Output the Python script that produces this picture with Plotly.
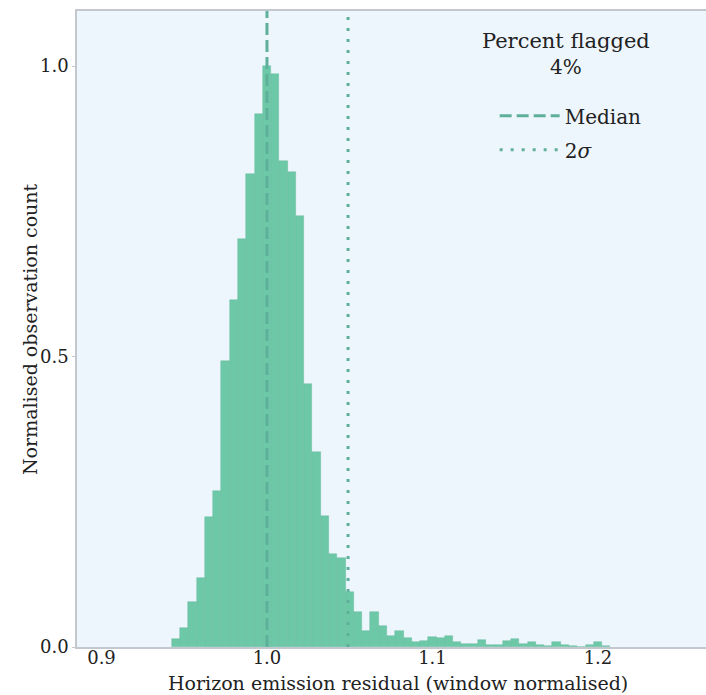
import plotly.graph_objects as go

# Histogram of the window-normalised horizon emission residual (bin width 0.005)
bin_centers = [
    0.945, 0.950, 0.955, 0.960, 0.965, 0.970, 0.975, 0.980, 0.985, 0.990,
    0.995, 1.000, 1.005, 1.010, 1.015, 1.020, 1.025, 1.030, 1.035, 1.040,
    1.045, 1.050, 1.055, 1.060, 1.065, 1.070, 1.075, 1.080, 1.085, 1.090,
    1.095, 1.100, 1.105, 1.110, 1.115, 1.120, 1.125, 1.130, 1.135, 1.140,
    1.145, 1.150, 1.155, 1.160, 1.165, 1.170, 1.175, 1.180, 1.185, 1.190,
    1.195, 1.200, 1.205,
]
normalised_counts = [
    0.014, 0.033, 0.077, 0.118, 0.223, 0.268, 0.493, 0.598, 0.703, 0.814,
    0.918, 1.000, 0.986, 0.837, 0.818, 0.742, 0.453, 0.335, 0.226, 0.160,
    0.153, 0.095, 0.060, 0.028, 0.060, 0.036, 0.019, 0.027, 0.016, 0.008,
    0.010, 0.018, 0.015, 0.019, 0.008, 0.006, 0.006, 0.012, 0.004, 0.003,
    0.010, 0.013, 0.005, 0.009, 0.003, 0.002, 0.008, 0.003, 0.002, 0.000,
    0.003, 0.008, 0.002,
]
bin_width = 0.005

median_value = 1.0
two_sigma_value = 1.049
percent_flagged = "4%"

x_ticks = [0.9, 1.0, 1.1, 1.2]
y_ticks = [0.0, 0.5, 1.0]

FONT = "'DejaVu Serif', 'Liberation Serif', serif"
TEXT_COLOR = "#222222"
BAR_COLOR = "#6cc8a6"
LINE_COLOR = "#5fb09b"
AXIS_COLOR = "#c3c8ce"

fig = go.Figure()

fig.add_trace(go.Bar(
    x=bin_centers,
    y=normalised_counts,
    width=bin_width,
    marker=dict(color=BAR_COLOR, line=dict(color="rgba(95,180,150,0.6)", width=0.6)),
    showlegend=False,
    hoverinfo="x+y",
))

y_top = 1.0947

fig.add_trace(go.Scatter(
    x=[median_value, median_value],
    y=[0, y_top],
    mode="lines",
    line=dict(color=LINE_COLOR, width=3, dash="12px,5px"),
    name="Median",
    legendgroup="median",
))
fig.add_trace(go.Scatter(
    x=[two_sigma_value, two_sigma_value],
    y=[0, y_top],
    mode="lines",
    line=dict(color=LINE_COLOR, width=3, dash="3px,8px"),
    name="2<i>σ</i>",
    legendgroup="sigma",
))

annotations = [
    # legend heading, two centred lines
    dict(text="Percent flagged", x=0.777, y=1, xref="paper", yref="paper",
         xanchor="center", yanchor="middle", yshift=-30, showarrow=False,
         font=dict(family=FONT, size=21, color=TEXT_COLOR)),
    dict(text=percent_flagged, x=0.777, y=1, xref="paper", yref="paper",
         xanchor="center", yanchor="middle", yshift=-56, showarrow=False,
         font=dict(family=FONT, size=20, color=TEXT_COLOR)),
    # axis titles
    dict(text="Horizon emission residual (window normalised)", x=0.5, y=0,
         xref="paper", yref="paper", xanchor="center", yanchor="middle",
         yshift=-36, xshift=6, showarrow=False,
         font=dict(family=FONT, size=19, color=TEXT_COLOR)),
    dict(text="Normalised observation count", x=0, y=0.5,
         xref="paper", yref="paper", xanchor="center", yanchor="middle",
         xshift=-47, textangle=-90, showarrow=False,
         font=dict(family=FONT, size=19, color=TEXT_COLOR)),
]

fig.update_layout(
    width=706,
    height=695,
    margin=dict(l=77, r=0, t=11, b=48),
    paper_bgcolor="white",
    plot_bgcolor="#eef6fd",
    font=dict(family=FONT, size=19, color=TEXT_COLOR),
    bargap=0,
    annotations=annotations,
    legend=dict(
        x=0.664,
        xanchor="left",
        y=0.866,
        yanchor="top",
        bgcolor="rgba(0,0,0,0)",
        font=dict(family=FONT, size=20, color=TEXT_COLOR),
        itemwidth=60,
        tracegroupgap=5,
    ),
    xaxis=dict(
        range=[0.8852, 1.2653],
        tickvals=x_ticks,
        ticktext=[f"{v:.1f}" for v in x_ticks],
        showgrid=False,
        zeroline=False,
        showline=True,
        linecolor=AXIS_COLOR,
        linewidth=1.5,
        mirror=True,
        ticks="",
        ticklabelstandoff=-6,
        tickfont=dict(family=FONT, size=18, color=TEXT_COLOR),
        automargin=False,
    ),
    yaxis=dict(
        range=[0, y_top],
        tickvals=y_ticks,
        ticktext=[f"{v:.1f}" for v in y_ticks],
        showgrid=False,
        zeroline=False,
        showline=True,
        linecolor=AXIS_COLOR,
        linewidth=1.5,
        ticks="outside",
        ticklen=3,
        tickcolor=AXIS_COLOR,
        tickfont=dict(family=FONT, size=18, color=TEXT_COLOR),
        automargin=False,
    ),
)

fig.write_html("out.html")
